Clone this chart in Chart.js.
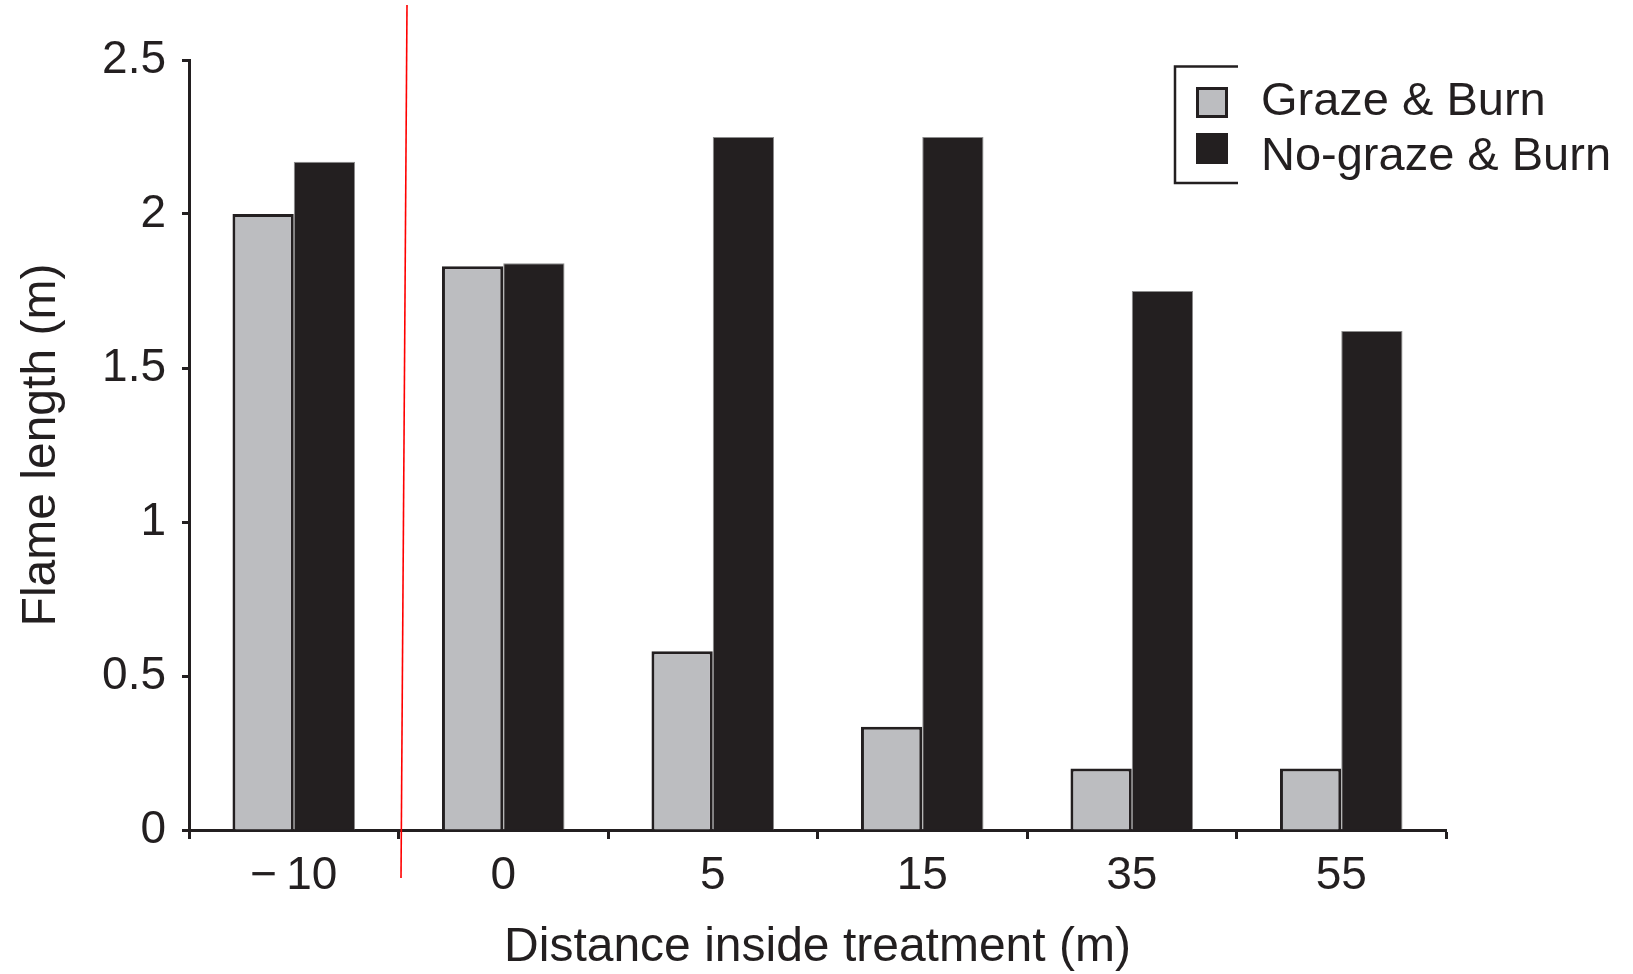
<!DOCTYPE html>
<html><head><meta charset="utf-8">
<script src="https://cdn.jsdelivr.net/npm/chart.js@4"></script>
<style>html,body{margin:0;padding:0;background:#fff;overflow:hidden}</style>
</head><body>
<canvas id="c" width="1633" height="974"></canvas>
<script>
const categories = ['\u2212\u200910', '0', '5', '15', '35', '55'];
const grazeBurn = [2.00, 1.83, 0.58, 0.335, 0.20, 0.20];
const noGrazeBurn = [2.17, 1.84, 2.25, 2.25, 1.75, 1.62];
const yTickValues = [0, 0.5, 1, 1.5, 2, 2.5];
const seriesLabels = ['Graze & Burn', 'No-graze & Burn'];
const xTitle = 'Distance inside treatment (m)';
const yTitle = 'Flame length (m)';

const INK = '#231f20';
const GRAY = '#bcbdc0';
const FAMILY = '"Liberation Sans", Arial, Helvetica, sans-serif';

const legendPlugin = {
  id: 'bracketLegend',
  afterDraw(chart) {
    const ctx = chart.ctx;
    ctx.save();
    ctx.strokeStyle = INK;
    ctx.lineWidth = 2.5;
    ctx.beginPath();
    ctx.moveTo(1238, 66.5);
    ctx.lineTo(1175, 66.5);
    ctx.lineTo(1175, 183);
    ctx.lineTo(1238, 183);
    ctx.stroke();
    const items = chart.data.datasets;
    const boxTops = [87, 133];
    const baselines = [115, 170];
    ctx.font = '47px ' + FAMILY;
    ctx.textBaseline = 'alphabetic';
    ctx.textAlign = 'left';
    items.forEach((ds, i) => {
      const top = boxTops[i];
      ctx.fillStyle = ds.backgroundColor;
      ctx.fillRect(1196, top, 32, 31);
      if (i === 0) {
        ctx.strokeStyle = INK;
        ctx.lineWidth = 3;
        ctx.strokeRect(1197.5, top + 1.5, 29, 28);
      }
      ctx.fillStyle = INK;
      ctx.fillText(ds.label, 1261, baselines[i]);
    });
    ctx.restore();
  }
};

const redLinePlugin = {
  id: 'redLine',
  afterDraw(chart) {
    const x = chart.scales.x;
    const ca = chart.chartArea;
    const bx = x.getPixelForValue(0.5);
    const ctx = chart.ctx;
    ctx.save();
    ctx.strokeStyle = '#ff0000';
    ctx.lineWidth = 1.6;
    ctx.beginPath();
    ctx.moveTo(bx + 8.5, ca.top - 55);
    ctx.lineTo(bx + 2.5, ca.bottom + 48);
    ctx.stroke();
    ctx.restore();
  }
};

new Chart(document.getElementById('c'), {
  type: 'bar',
  data: {
    labels: categories,
    datasets: [
      { label: seriesLabels[0], data: grazeBurn, backgroundColor: GRAY, borderColor: INK, borderWidth: 3 },
      { label: seriesLabels[1], data: noGrazeBurn, backgroundColor: INK, borderColor: '#8d8d8d', borderWidth: 1 }
    ]
  },
  options: {
    responsive: false,
    animation: false,
    devicePixelRatio: 1,
    layout: { padding: { left: 0, right: 187, top: 60, bottom: 0 } },
    datasets: { bar: { barPercentage: 1, categoryPercentage: 0.585 } },
    plugins: { legend: { display: false }, tooltip: { enabled: false } },
    scales: {
      x: {
        offset: true,
        grid: { offset: true, drawOnChartArea: false, drawTicks: true, tickLength: 9, tickWidth: 3, tickColor: INK },
        border: { display: true, color: INK, width: 3 },
        ticks: { color: INK, font: { size: 46, family: FAMILY }, padding: 10, maxRotation: 0 },
        title: { display: true, text: xTitle, color: INK, font: { size: 48, family: FAMILY }, padding: { top: 0, bottom: -3 } },
        afterFit(s) { s.height = 144; }
      },
      y: {
        min: yTickValues[0],
        max: yTickValues[yTickValues.length - 1],
        afterBuildTicks(s) { s.ticks = yTickValues.map(v => ({ value: v })); },
        grid: { drawOnChartArea: false, drawTicks: true, tickLength: 7, tickWidth: 3, tickColor: INK },
        border: { display: true, color: INK, width: 3 },
        ticks: { color: INK, font: { size: 46, family: FAMILY }, padding: 16, callback: v => String(v) },
        title: { display: true, text: yTitle, color: INK, font: { size: 48, family: FAMILY }, padding: { top: 13, bottom: 0 } },
        afterFit(s) { s.width = 189; }
      }
    }
  },
  plugins: [legendPlugin, redLinePlugin]
});
</script>
</body></html>
